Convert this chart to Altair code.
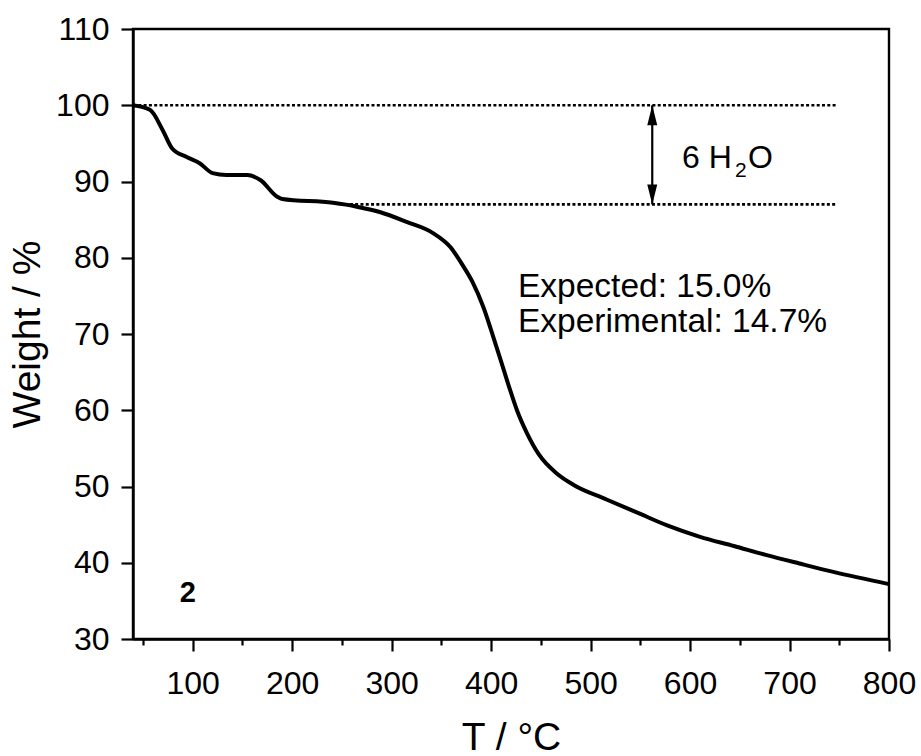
import altair as alt
import pandas as pd

# ---- data ----
temp = [40, 57, 70, 79, 94, 107, 120, 134, 155, 168, 185, 190, 241, 265, 288,
        315, 342, 359, 372, 381, 392, 402, 412, 419, 426, 436, 448, 466, 483,
        516, 550, 577, 610, 644, 677, 710, 744, 800]
weight = [100, 99.4, 96.7, 94.4, 93.2, 92.4, 91.1, 90.85, 90.85, 90.2, 88.0,
          87.7, 87.2, 86.7, 86.0, 84.7, 83.2, 81.4, 78.9, 76.9, 73.6, 69.7,
          65.6, 62.7, 60.0, 57.0, 54.2, 51.7, 50.2, 48.3, 46.4, 44.9, 43.4,
          42.2, 41.0, 39.9, 38.8, 37.2]

ref_start = [40, 258]
ref_end = [748, 748]
ref_level = [100, 87]

arrow_t = [562]
arrow_top = [100]
arrow_bottom = [87]

ann_text = ["Expected: 15.0%", "Experimental: 14.7%"]
ann_t = [427, 427]
ann_w = [74.85, 70.26]

water_t = [592]
water_w = [91.77]

label_t = [87]
label_w = [34.9]
label_text = ["2"]

FONT = "Liberation Sans"

curve_df = pd.DataFrame({"T": temp, "W": weight})
ref_df = pd.DataFrame({"T": ref_start, "T2": ref_end, "W": ref_level})
arrow_df = pd.DataFrame({"T": arrow_t, "W": arrow_top, "W2": arrow_bottom})
ann_df = pd.DataFrame({"T": ann_t, "W": ann_w, "text": ann_text})
water_df = pd.DataFrame({"T": water_t, "W": water_w})
label_df = pd.DataFrame({"T": label_t, "W": label_w, "text": label_text})

x_scale = alt.Scale(domain=[40, 800], nice=False, zero=False)
y_scale = alt.Scale(domain=[30, 110], nice=False, zero=False)

x_axis = alt.Axis(
    values=list(range(50, 801, 50)),
    labelExpr="datum.value % 100 === 0 ? datum.label : ''",
    tickSize={"condition": {"test": "datum.value % 100 === 0", "value": 12}, "value": 6},
    title="T / °C",
    labelPadding=17,
    titlePadding=19,
    labelFlush=False,
)
y_axis = alt.Axis(
    values=list(range(30, 111, 5)),
    labelExpr="datum.value % 10 === 0 ? datum.label : ''",
    tickSize={"condition": {"test": "datum.value % 10 === 0", "value": 12}, "value": 6},
    title="Weight / %",
    labelPadding=12,
    titlePadding=8,
    labelFlush=False,
)

base = alt.Chart(curve_df)

curve = base.mark_line(color="black", strokeWidth=4, interpolate="monotone").encode(
    x=alt.X("T:Q", scale=x_scale, axis=x_axis),
    y=alt.Y("W:Q", scale=y_scale, axis=y_axis),
)

refs = alt.Chart(ref_df).mark_rule(color="black", strokeWidth=2.6, strokeDash=[3, 2.3]).encode(
    x=alt.X("T:Q", scale=x_scale),
    x2="T2:Q",
    y=alt.Y("W:Q", scale=y_scale),
)

arrow_line = alt.Chart(arrow_df).mark_rule(color="black", strokeWidth=2.2).encode(
    x=alt.X("T:Q", scale=x_scale),
    y=alt.Y("W:Q", scale=y_scale),
    y2="W2:Q",
)

head_up = alt.Chart(arrow_df).mark_point(
    shape="M0,0L-0.25,1L0.25,1Z", filled=True, size=1600, color="black", opacity=1, strokeWidth=0
).encode(x=alt.X("T:Q", scale=x_scale), y=alt.Y("W:Q", scale=y_scale))

head_down = alt.Chart(arrow_df).mark_point(
    shape="M0,0L-0.25,-1L0.25,-1Z", filled=True, size=1600, color="black", opacity=1, strokeWidth=0
).encode(x=alt.X("T:Q", scale=x_scale), y=alt.Y("W2:Q", scale=y_scale))

ann = alt.Chart(ann_df).mark_text(
    align="left", baseline="alphabetic", font=FONT, fontSize=33.5, color="black"
).encode(x=alt.X("T:Q", scale=x_scale), y=alt.Y("W:Q", scale=y_scale), text="text:N")

w1 = alt.Chart(water_df).mark_text(
    align="left", baseline="alphabetic", font=FONT, fontSize=32, color="black", text="6 H"
).encode(x=alt.X("T:Q", scale=x_scale), y=alt.Y("W:Q", scale=y_scale))
w2 = alt.Chart(water_df).mark_text(
    align="left", baseline="alphabetic", font=FONT, fontSize=21, color="black", text="2", dx=53, dy=9
).encode(x=alt.X("T:Q", scale=x_scale), y=alt.Y("W:Q", scale=y_scale))
w3 = alt.Chart(water_df).mark_text(
    align="left", baseline="alphabetic", font=FONT, fontSize=32, color="black", text="O", dx=66
).encode(x=alt.X("T:Q", scale=x_scale), y=alt.Y("W:Q", scale=y_scale))

lbl = alt.Chart(label_df).mark_text(
    align="left", baseline="alphabetic", font=FONT, fontSize=29, fontWeight="bold", color="black"
).encode(x=alt.X("T:Q", scale=x_scale), y=alt.Y("W:Q", scale=y_scale), text="text:N")

chart = alt.layer(refs, curve, arrow_line, head_up, head_down, ann, w1, w2, w3, lbl).properties(
    width=756,
    height=610,
    autosize="none",
    padding={"left": 133, "top": 29, "right": 32, "bottom": 117},
).configure(
    background="white"
).configure_view(
    stroke="black", strokeWidth=2.4
).configure_axis(
    grid=False,
    domainColor="black",
    domainWidth=2.4,
    tickColor="black",
    tickWidth=2.2,
    labelColor="black",
    titleColor="black",
    labelFont=FONT,
    titleFont=FONT,
    labelFontSize=32,
    titleFontSize=39,
    titleFontWeight="normal",
)

chart.save("out.html", embed_options={"renderer": "svg", "actions": False})
